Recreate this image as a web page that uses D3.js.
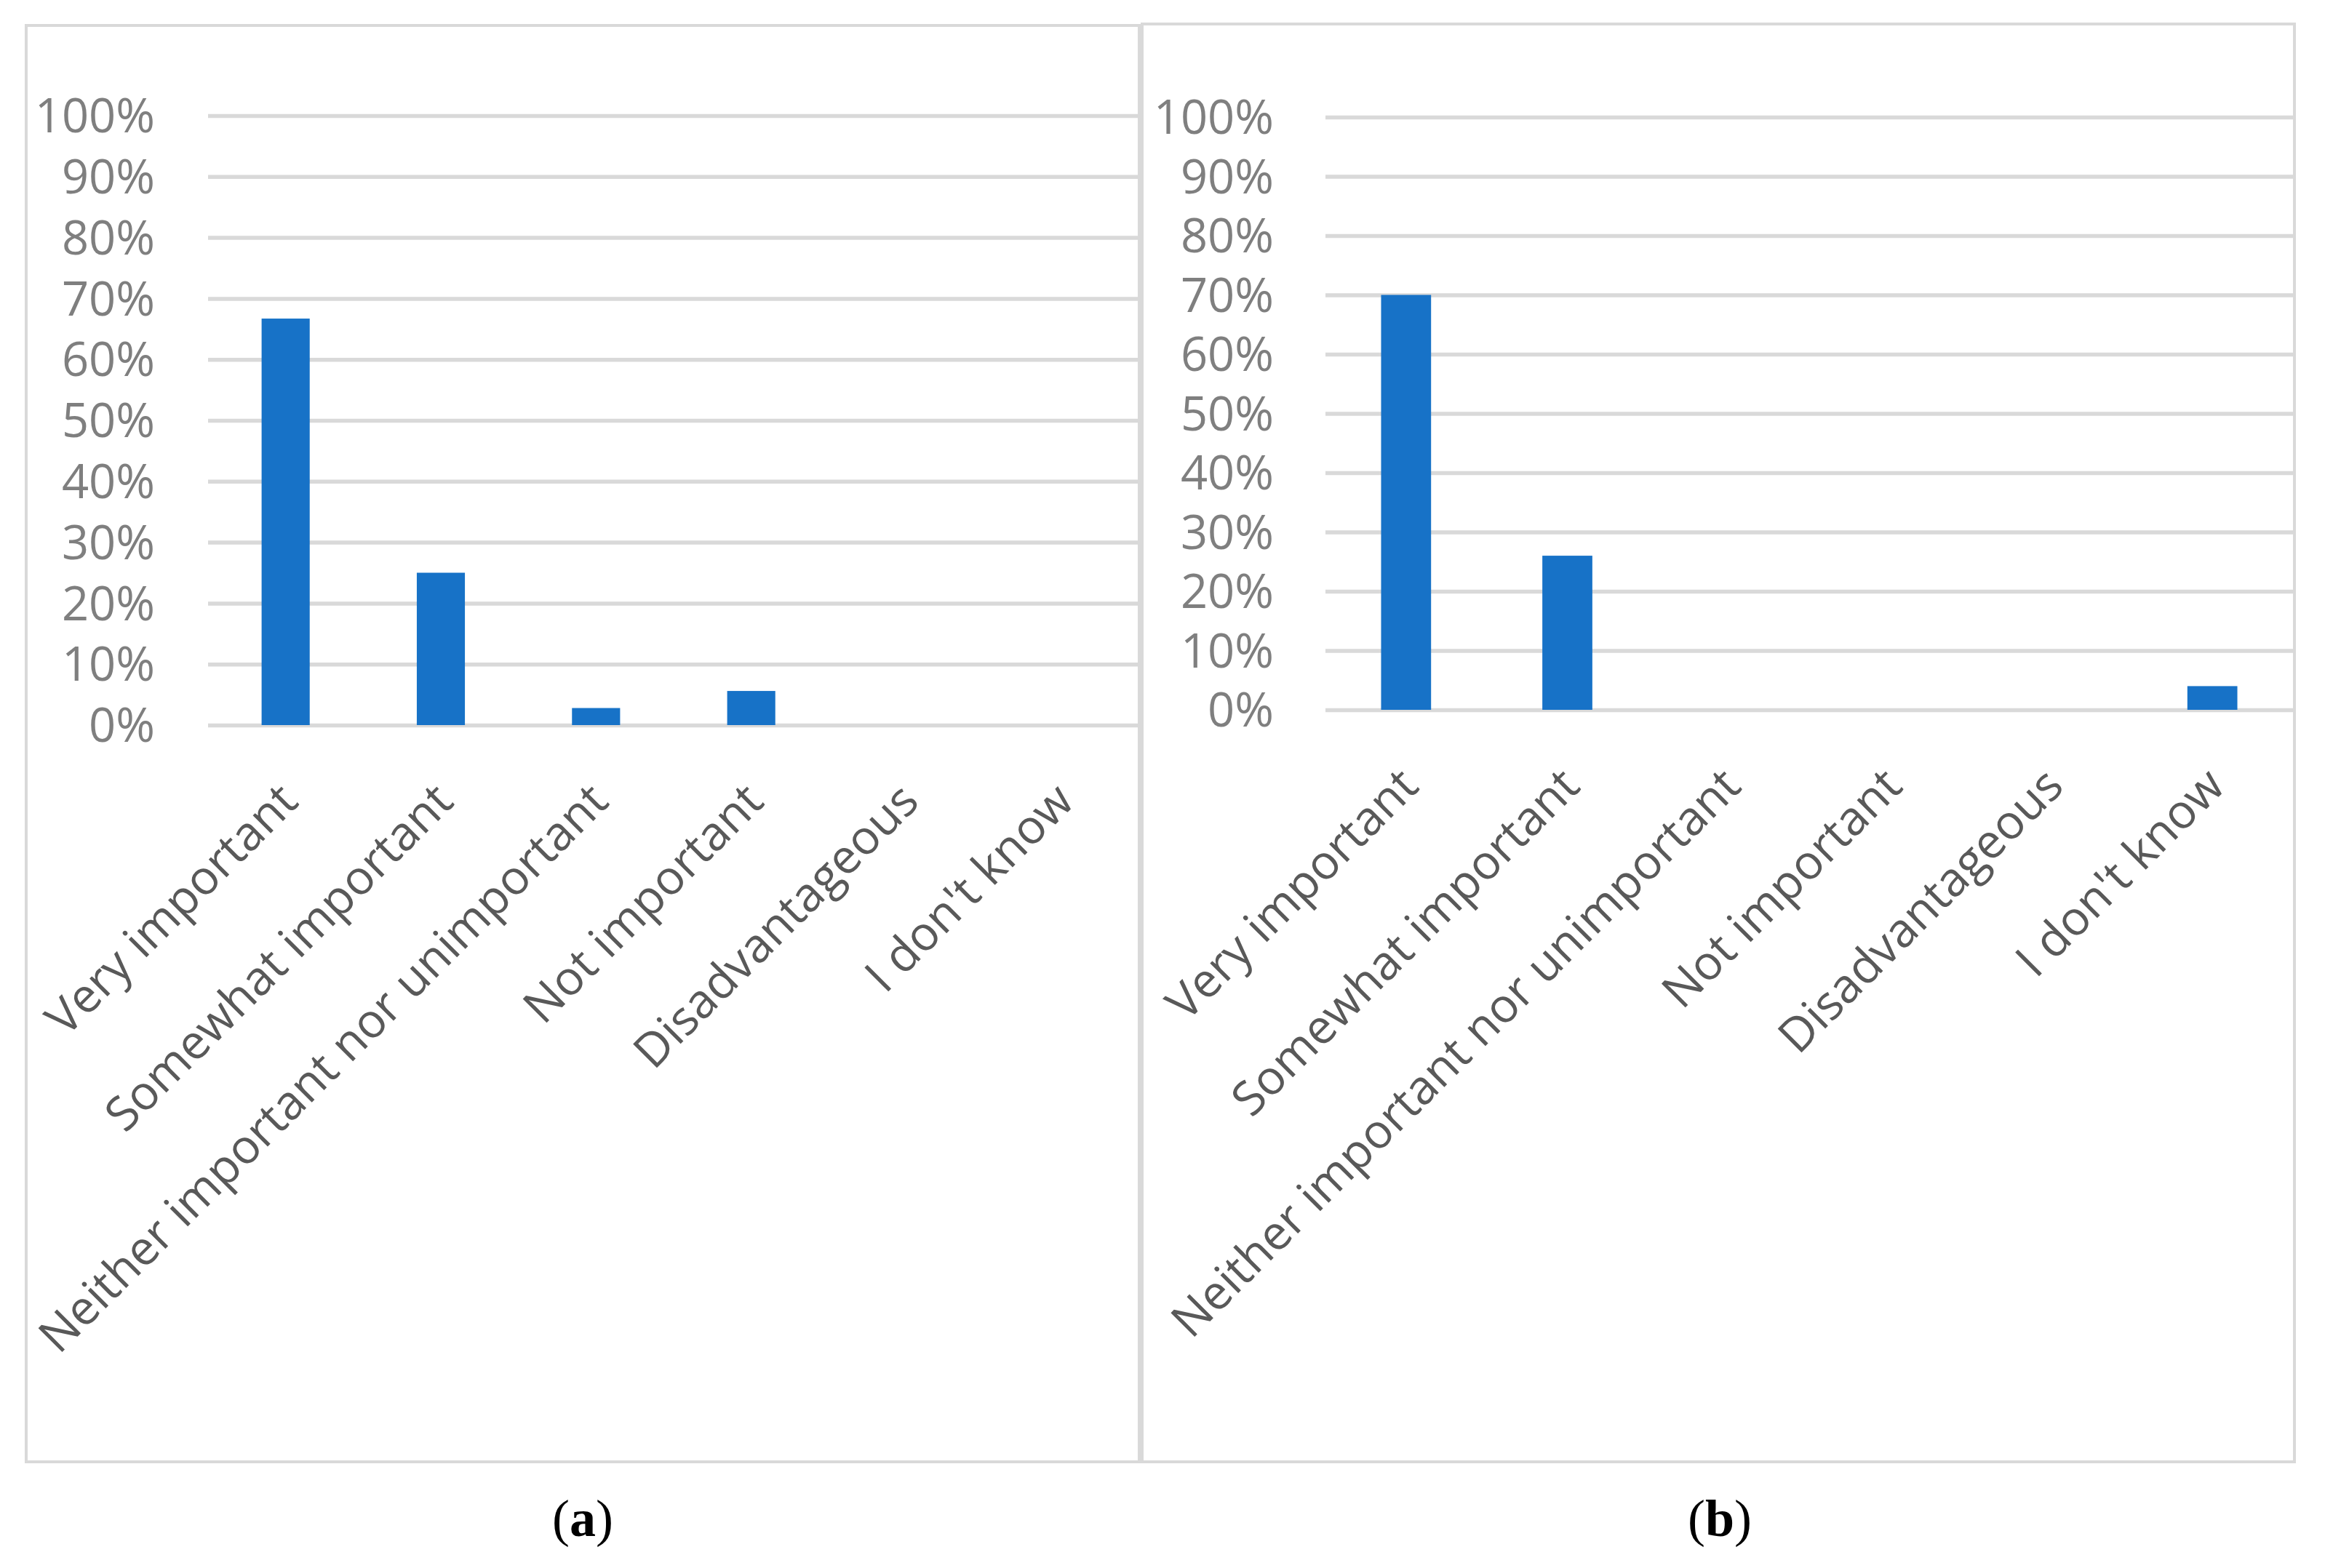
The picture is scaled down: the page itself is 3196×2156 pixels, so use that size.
<!DOCTYPE html>
<html>
<head>
<meta charset="utf-8">
<script src="https://d3js.org/d3.v7.min.js"></script>
<style>
  body { margin: 0; background: #fff; }
  .tick-y text { fill: #7f7f7f; font-family: "Open Sans", sans-serif; font-size: 65px; }
  .tick-x text { fill: #595959; font-family: "Open Sans", sans-serif; font-size: 65px; }
  .grid line { stroke: #d9d9d9; stroke-width: 5.5; }
  .frame { fill: none; stroke: #d9d9d9; stroke-width: 4; }
  .bar { fill: #1772c7; }
  .caption { font-family: "Liberation Serif", "Times New Roman", serif; font-size: 72px; fill: #000; }
</style>
</head>
<body>
<svg id="chart"></svg>
<script>
// data
var categories = ["Very important", "Somewhat important", "Neither important nor unimportant",
                  "Not important", "Disadvantageous", "I don't know"];
var valuesA = [66.7, 25.0, 2.8, 5.6, 0, 0];
var valuesB = [70, 26, 0, 0, 0, 4];
var tickValues = [0, 10, 20, 30, 40, 50, 60, 70, 80, 90, 100];
var captions = ["a", "b"];

var W = 3196, H = 2156;
var svg = d3.select("#chart").attr("width", W).attr("height", H);

// panel layout (pixel boxes)
var panels = [
  { values: valuesA, caption: captions[0], frame: [36, 35, 1566, 2010],
    plot: [286, 1566, 997, 159], tickRight: 213, capX: 801 },
  { values: valuesB, caption: captions[1], frame: [1570, 33, 3154, 2010],
    plot: [1822, 3152, 976, 161], tickRight: 1751, capX: 2364 }
];

panels.forEach(function(p) {
  var g = svg.append("g");

  g.append("rect").attr("class", "frame")
    .attr("x", p.frame[0]).attr("y", p.frame[1])
    .attr("width", p.frame[2] - p.frame[0]).attr("height", p.frame[3] - p.frame[1]);

  var x = d3.scaleBand().domain(categories)
    .range([p.plot[0], p.plot[1]])
    .paddingInner(0.69).paddingOuter(0.345);
  var y = d3.scaleLinear().domain([0, 100]).range([p.plot[2], p.plot[3]]);

  // gridlines
  g.append("g").attr("class", "grid")
    .attr("transform", "translate(" + p.plot[0] + ",0)")
    .call(d3.axisLeft(y).tickValues(tickValues).tickSize(-(p.plot[1] - p.plot[0])).tickFormat(""))
    .call(function(s) { s.select(".domain").remove(); });

  // y tick labels
  g.append("g").attr("class", "tick-y")
    .attr("transform", "translate(" + p.tickRight + ",0)")
    .call(d3.axisLeft(y).tickValues(tickValues).tickSize(0).tickPadding(0)
      .tickFormat(function(d) { return d + "%"; }))
    .call(function(s) {
      s.select(".domain").remove();
      s.selectAll("text").attr("dy", "0.35em").attr("font-family", null).attr("font-size", null);
    });

  // bars
  g.selectAll(".bar").data(p.values).enter().append("rect")
    .attr("class", "bar")
    .attr("x", function(d, i) { return x(categories[i]); })
    .attr("width", x.bandwidth())
    .attr("y", function(d) { return y(d); })
    .attr("height", function(d) { return y(0) - y(d); });

  // category labels
  g.append("g").attr("class", "tick-x")
    .attr("transform", "translate(0," + p.plot[2] + ")")
    .call(d3.axisBottom(x).tickSize(0).tickPadding(0))
    .call(function(s) {
      s.select(".domain").remove();
      s.selectAll("text")
        .attr("font-family", null).attr("font-size", null)
        .attr("text-anchor", "end")
        .attr("y", 0).attr("dy", "0.35em")
        .attr("transform", "translate(4,92) rotate(-45)");
    });

  // caption (a) / (b)
  var cap = g.append("text").attr("class", "caption")
    .attr("x", p.capX).attr("y", 2112).attr("text-anchor", "middle");
  cap.append("tspan").text("(");
  cap.append("tspan").attr("font-weight", "bold").text(p.caption);
  cap.append("tspan").text(")");
});
</script>
</body>
</html>
